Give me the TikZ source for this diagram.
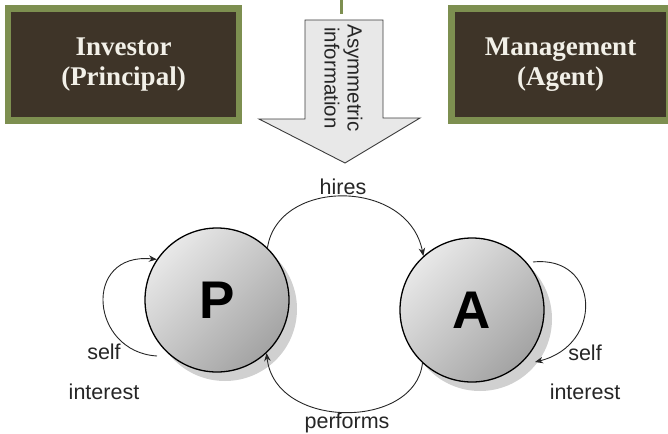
\documentclass[tikz,border=0pt]{standalone}
\usepackage{fontspec}
\setmainfont{Liberation Serif}
\setsansfont{Liberation Sans}
\usetikzlibrary{arrows.meta}
\definecolor{boxdark}{RGB}{62,52,40}
\definecolor{boxgreen}{RGB}{125,143,80}
\definecolor{boxtext}{RGB}{242,240,232}
\definecolor{arrowfill}{RGB}{232,232,232}
\definecolor{arrowline}{RGB}{60,60,60}
\definecolor{shadowgray}{RGB}{208,208,208}
\tikzset{
  rolebox/.style={draw=boxgreen, line width=6.5pt, fill=boxdark, text=boxtext,
    minimum height=111.5pt, align=center, inner sep=0pt,
    font=\rmfamily\bfseries\fontsize{27}{30}\selectfont},
  actor/.style={circle, draw=black, line width=1.3pt, minimum size=144pt, inner sep=0pt,
    top color=gray!18, bottom color=gray!72, shading angle=45,
    font=\sffamily\bfseries\fontsize{53}{56}\selectfont},
  shadowdisc/.style={circle, fill=shadowgray, minimum size=144pt, inner sep=0pt},
  rel/.style={draw=black!85, line width=0.9pt, -{Stealth[length=8pt,width=6.5pt]}},
  lbl/.style={font=\sffamily\fontsize{21.5}{24}\selectfont, text=black!85, inner sep=0pt}
}
\begin{document}
\begin{tikzpicture}[x=1pt,y=-1pt]
\useasboundingbox (0,0) rectangle (668,433);
% top boxes
\node[rolebox, minimum width=231pt] (inv) at (123.5,64.5) {Investor\\(Principal)};
\node[rolebox, minimum width=218pt] (mgmt) at (560.5,64.5) {Management\\(Agent)};
% green line at top
\draw[boxgreen, line width=3pt] (341.5,0) -- (341.5,14);
% block arrow
\draw[arrowline, line width=0.9pt, fill=arrowfill, line join=miter]
  (305,20) -- (383,20) -- (383,118) -- (420,118) -- (345,163) -- (259,119) -- (305,119) -- cycle;
\node[rotate=-90, align=center, font=\sffamily\fontsize{20.5}{23}\selectfont, text=black!85] (asym) at (343.5,78) {Asymmetric\\information};
% shadows
\node[shadowdisc] (Psh) at (225,309) {};
\node[shadowdisc] (Ash) at (480,319) {};
% actors
\node[actor] (P) at (217,300) {P};
\node[actor] (A) at (472,310) {A};
% hires
\draw[rel] (P.46) .. controls (278,178) and (408,178) .. (A.132);
\node[lbl] (hires) at (343,187) {hires};
% performs
\draw[rel] (A.227) .. controls (415,430) and (275,430) .. (P.313);
\node[lbl] (perf) at (347,423) {performs};
% self interest loops
\coordinate (Ps) at (157,356);
\draw[rel] (Ps) .. controls (90,352) and (82,252) .. (P.146);
\node[lbl] (ps1) at (104,352) {self};
\node[lbl] (ps2) at (104,392) {interest};
\coordinate (As) at (533,262);
\draw[rel] (As) .. controls (600,255) and (604,345) .. (535,362);
\node[lbl] (as1) at (585,353) {self};
\node[lbl] (as2) at (585,392) {interest};
\end{tikzpicture}
\end{document}
